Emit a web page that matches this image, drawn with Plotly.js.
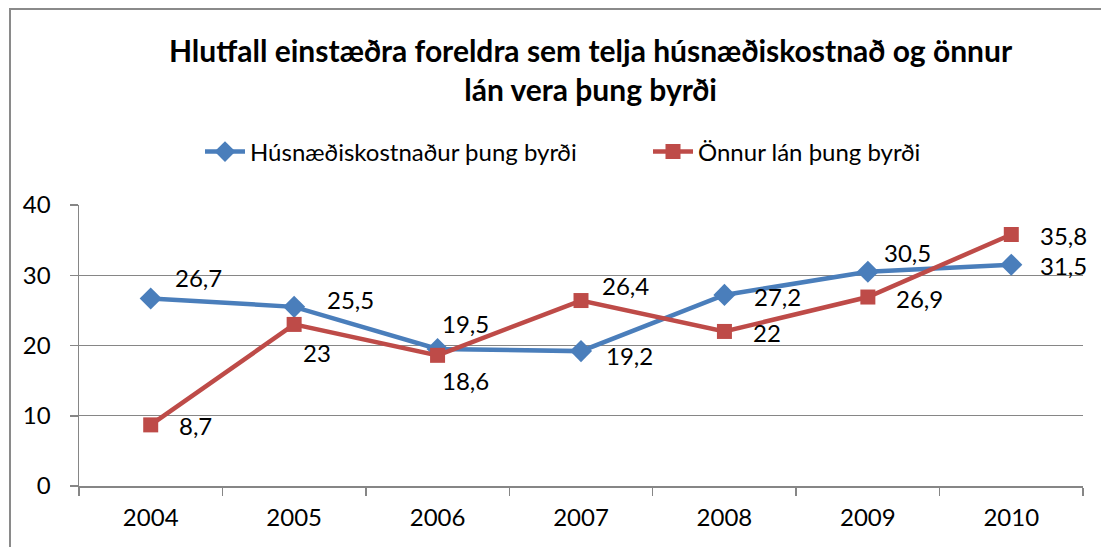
<!DOCTYPE html>
<html>
<head>
<meta charset="utf-8">
<script src="https://cdn.plot.ly/plotly-3.0.1.min.js"></script>
<style>
  html, body { margin: 0; padding: 0; background: #fff; }
  #wrap { position: relative; width: 1101px; height: 547px; overflow: hidden; }
  #chart { width: 1101px; height: 547px; }
  #frame { position: absolute; left: 9px; top: 8px; width: 1200px; height: 700px;
           border-left: 2px solid #8a8a8a; border-top: 2px solid #8a8a8a; pointer-events: none; }
</style>
</head>
<body>
<div id="wrap">
  <div id="chart"></div>
  <div id="frame"></div>
</div>
<script>
// ---- data ----
const years = ['2004', '2005', '2006', '2007', '2008', '2009', '2010'];
const housingCost = [26.7, 25.5, 19.5, 19.2, 27.2, 30.5, 31.5];
const otherLoans = [8.7, 23, 18.6, 26.4, 22, 26.9, 35.8];
const seriesNames = ['Húsnæðiskostnaður þung byrði', 'Önnur lán þung byrði'];
const titleText = 'Hlutfall einstæðra foreldra sem telja húsnæðiskostnað og önnur<br>lán vera þung byrði';
const yTicks = [0, 10, 20, 30, 40];

// ---- label placement (styling only) ----
const blueShift = [[22, 21], [31, 7], [2, 26], [23, -4], [28, -2], [14, 19], [27, -1]];
const redShift = [[26, -1], [7, -28], [2, -25], [19, 15], [27, -1], [26, -1], [27, -1]];

const FONT = 'Lato, "Open Sans", "DejaVu Sans", sans-serif';
const FS = 24;
const BLUE = '#4A7EBB';
const RED = '#BE4B48';
const fmt = v => String(v).replace('.', ',');

const traces = [
  {
    x: years, y: housingCost, name: seriesNames[0], type: 'scatter', mode: 'lines+markers',
    line: { color: BLUE, width: 4.5 },
    marker: { symbol: 'diamond', size: 17, color: BLUE },
    legend: 'legend', hoverinfo: 'x+y'
  },
  {
    x: years, y: otherLoans, name: seriesNames[1], type: 'scatter', mode: 'lines+markers',
    line: { color: RED, width: 4.5 },
    marker: { symbol: 'square', size: 15, color: RED },
    legend: 'legend2', hoverinfo: 'x+y'
  }
];

const annotations = [];
function addLabels(vals, shifts) {
  vals.forEach((v, i) => {
    annotations.push({
      // category axis: annotation x is the category index
      x: i, y: v, xref: 'x', yref: 'y', text: fmt(v), showarrow: false,
      xanchor: 'left', yanchor: 'middle', xshift: shifts[i][0], yshift: shifts[i][1],
      font: { family: FONT, size: FS, color: '#000' }
    });
  });
}
addLabels(housingCost, blueShift);
addLabels(otherLoans, redShift);

const legendBase = {
  orientation: 'h', xanchor: 'left', yanchor: 'middle', y: (486 - 152) / 281,
  font: { family: FONT, size: FS, color: '#000' }, itemwidth: 40,
  bgcolor: 'rgba(0,0,0,0)', borderwidth: 0
};

const layout = {
  width: 1101, height: 547,
  margin: { l: 79, r: 18, t: 205, b: 61 },
  paper_bgcolor: '#fff', plot_bgcolor: '#fff',
  font: { family: FONT, size: FS, color: '#000' },
  title: {
    text: titleText,
    font: { family: FONT, size: 30, color: '#000', weight: 'bold' },
    x: 561 / 1101, xanchor: 'center', xref: 'paper',
    y: 1 - 62 / 547, yanchor: 'middle', yref: 'container'
  },
  showlegend: true,
  legend: Object.assign({}, legendBase, { x: (200 - 79) / 1004 }),
  legend2: Object.assign({}, legendBase, { x: (648 - 79) / 1004 }),
  xaxis: {
    type: 'category', range: [-0.5, 6.5], showgrid: false, zeroline: false,
    showline: true, linecolor: '#868686', linewidth: 1.5,
    ticks: 'outside', tickson: 'boundaries', ticklen: 8, tickcolor: '#868686', tickwidth: 1.5,
    tickfont: { family: FONT, size: FS, color: '#000' }, ticklabelstandoff: 10
  },
  yaxis: {
    range: [0, 40], tickvals: yTicks, ticktext: yTicks.map(String),
    showgrid: true, gridcolor: '#868686', gridwidth: 1.2, zeroline: false,
    showline: true, linecolor: '#868686', linewidth: 1.5,
    ticks: 'outside', ticklen: 8, tickcolor: '#868686', tickwidth: 1.5,
    tickfont: { family: FONT, size: FS, color: '#000' }, ticklabelstandoff: 14
  },
  annotations: annotations
};

Plotly.newPlot('chart', traces, layout, { displayModeBar: false, staticPlot: true });
</script>
</body>
</html>
